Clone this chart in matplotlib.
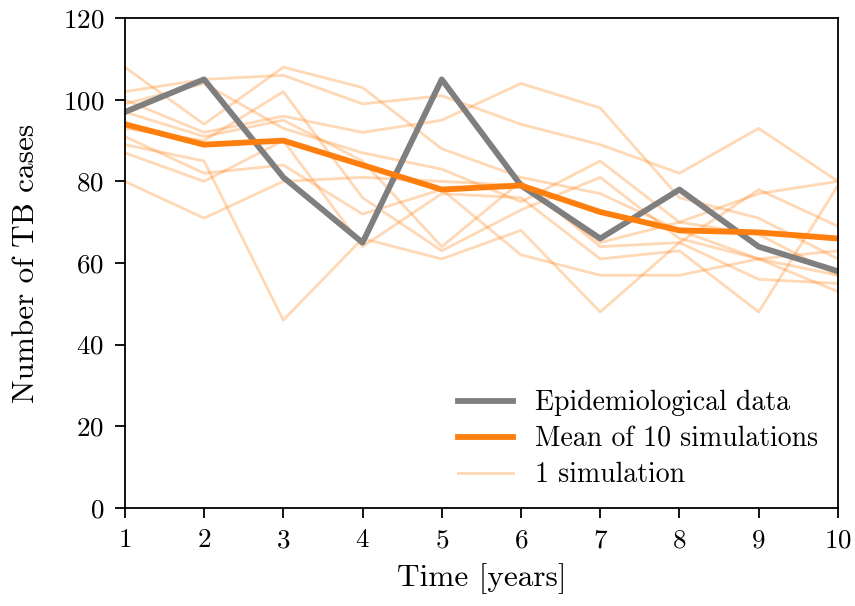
import numpy as np
import matplotlib
matplotlib.use("Agg")
import matplotlib.pyplot as plt

# Config
years = [1, 2, 3, 4, 5, 6, 7, 8, 9, 10]
epi_data = [97, 105, 81, 65, 105, 79, 66, 78, 64, 58]
mean_sim = [94, 89, 90, 84, 78, 79, 72.5, 68, 67.5, 66]

sim_1 = [108, 94, 108, 103, 88, 81, 77, 68, 61, 57]
sim_2 = [102, 105, 106, 99, 101, 94, 89, 82, 93, 80]
sim_3 = [100, 92, 96, 92, 95, 104, 98, 76, 71, 61]
sim_4 = [99, 104, 93, 87, 83, 75, 85, 70, 77, 80]
sim_5 = [97, 91, 95, 85, 64, 80, 64, 65, 78, 69]
sim_6 = [93, 90, 102, 76, 63, 73, 81, 66, 61, 53]
sim_7 = [91, 82, 84, 72, 78, 62, 57, 57, 61, 63]
sim_8 = [89, 85, 46, 66, 61, 68, 48, 65, 56, 55]
sim_9 = [87, 80, 90, 64, 77, 76, 61, 63, 48, 79]
sim_10 = [80, 71, 80, 81, 80, 79, 65, 70, 67, 57]
sims = [sim_1, sim_2, sim_3, sim_4, sim_5, sim_6, sim_7, sim_8, sim_9, sim_10]

plt.rcParams['font.family'] = 'serif'
plt.rcParams['font.serif'] = ['cmr10']
plt.rcParams['mathtext.fontset'] = 'cm'
plt.rcParams['axes.formatter.use_mathtext'] = True

fig = plt.figure(figsize=(8.55, 6.06), dpi=100)
ax = fig.add_axes([0.146, 0.162, 0.834, 0.808])

for i, s in enumerate(sims):
    ax.plot(years, s, color='tab:orange', alpha=0.3, lw=2,
            label='1 simulation' if i == 0 else None)
ax.plot(years, epi_data, color='tab:gray', lw=4.2, label='Epidemiological data')
ax.plot(years, mean_sim, color='tab:orange', lw=4.2, label='Mean of 10 simulations')

ax.set_xlim(1, 10)
ax.set_ylim(0, 120)
ax.set_xticks(years)
ax.set_yticks(range(0, 121, 20))
ax.tick_params(labelsize=19.5, length=7, width=1.3, pad=8)
for sp in ax.spines.values():
    sp.set_linewidth(1.3)
ax.set_xlabel('Time [years]', fontsize=22.5, labelpad=8)
ax.set_ylabel('Number of TB cases', fontsize=22.5, labelpad=16)

h, l = ax.get_legend_handles_labels()
order = [1, 2, 0]
ax.legend([h[k] for k in order], [l[k] for k in order], loc='lower right',
          frameon=False, fontsize=20, labelspacing=0.35, borderaxespad=0.3)

fig.savefig('out.png', dpi=100)
